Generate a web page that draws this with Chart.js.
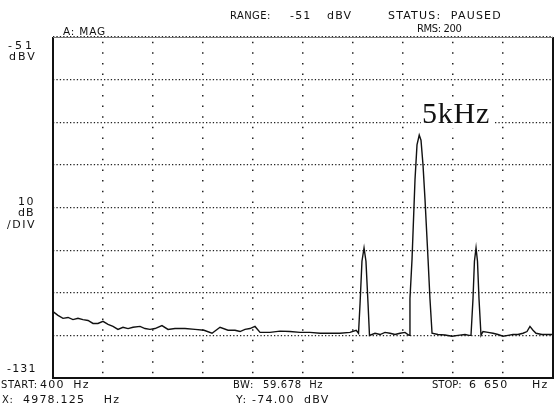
<html>
<head>
<script src="https://cdn.jsdelivr.net/npm/chart.js"></script>
<style>
body { margin: 0; background: #fff; }
#wrap { position: relative; width: 555px; height: 412px; overflow: hidden; }
.t { position: absolute; font-family: "DejaVu Sans", sans-serif; font-size: 11px; line-height: 10px; letter-spacing: 1.2px; white-space: pre; color: #111; }
.s { font-size: 10px; letter-spacing: 0.6px; }
#mark { position: absolute; left: 421px; top: 98px; font-family: "Liberation Serif", serif; font-size: 30px; line-height: 30px; letter-spacing: 0.8px; background: #fff; padding: 0 4px 0 1px; color: #111; }
</style>
</head>
<body>
<div id="wrap">
  <canvas id="chart" width="555" height="412"></canvas>

  <div class="t s" style="left:230px;top:11px;letter-spacing:0.4px">RANGE:</div>
  <div class="t" style="left:290px;top:11px;word-spacing:3px">-51  dBV</div>
  <div class="t" style="left:388px;top:11px">STATUS:  PAUSED</div>
  <div class="t s" style="left:417px;top:24px;letter-spacing:-0.4px">RMS: 200</div>
  <div class="t s" style="left:63px;top:26px;font-size:10.5px;letter-spacing:0.8px">A: MAG</div>

  <div class="t" style="left:8px;top:41px;letter-spacing:3px">-51</div>
  <div class="t" style="left:9px;top:52px;letter-spacing:2px">dBV</div>
  <div class="t" style="left:18px;top:197px;letter-spacing:1.5px">10</div>
  <div class="t" style="left:18px;top:208px;letter-spacing:1px">dB</div>
  <div class="t" style="left:7px;top:220px;letter-spacing:1.5px">/DIV</div>
  <div class="t" style="left:7px;top:364px">-131</div>

  <div class="t s" style="left:1px;top:380px">START:</div>
  <div class="t" style="left:40px;top:380px;word-spacing:4px">400 Hz</div>
  <div class="t s" style="left:233px;top:380px">BW:</div>
  <div class="t s" style="left:263px;top:380px">59.678  Hz</div>
  <div class="t s" style="left:432px;top:380px;letter-spacing:0">STOP:</div>
  <div class="t" style="left:469px;top:380px;word-spacing:2px">6 650</div>
  <div class="t" style="left:532px;top:380px">Hz</div>
  <div class="t s" style="left:2px;top:395px">X:</div>
  <div class="t" style="left:23px;top:395px;word-spacing:14px">4978.125 Hz</div>
  <div class="t" style="left:236px;top:395px">Y: -74.00  dBV</div>

  <div id="mark">5kHz</div>
</div>

<script>
// trace: frequency (Hz) / level (dBV)
const freqHz = [
  400, 462, 525, 588, 650, 712, 775, 838, 900, 962,
  1025, 1088, 1150, 1212, 1275, 1338, 1400, 1488, 1550, 1612,
  1675, 1762, 1838, 1925, 2050, 2175, 2288, 2388, 2488, 2588,
  2675, 2738, 2800, 2862, 2925, 2988, 3112, 3238, 3362, 3488,
  3612, 3738, 3862, 3988, 4112, 4190, 4219, 4238, 4262, 4288,
  4312, 4338, 4356, 4425, 4488, 4550, 4612, 4675, 4738, 4800,
  4850, 4862, 4888, 4925, 4950, 4978, 5000, 5025, 5050, 5088,
  5112, 5138, 5212, 5300, 5388, 5462, 5550, 5600, 5625, 5650,
  5668, 5688, 5706, 5725, 5750, 5775, 5838, 5900, 5962, 6025,
  6088, 6150, 6212, 6275, 6325, 6362, 6400, 6438, 6512, 6588,
  6650
];
const levelDbv = [
  -115.4, -116.3, -117.0, -116.8, -117.3, -117.0, -117.3, -117.5, -118.2, -118.2,
  -117.7, -118.4, -118.9, -119.6, -119.1, -119.4, -119.1, -118.9, -119.4, -119.6,
  -119.4, -118.7, -119.6, -119.4, -119.4, -119.6, -119.8, -120.5, -119.1, -119.8,
  -119.8, -120.1, -119.6, -119.4, -118.9, -120.3, -120.3, -120.0, -120.1, -120.3,
  -120.3, -120.5, -120.5, -120.5, -120.3, -119.8, -120.5, -113.6, -103.6, -100.5,
  -103.6, -113.6, -121.0, -120.5, -120.8, -120.3, -120.5, -120.8, -120.5, -120.3,
  -121.0, -112.4, -103.1, -84.5, -76.3, -74.0, -75.2, -81.0, -89.1, -103.1,
  -112.4, -120.5, -120.8, -120.9, -121.2, -121.0, -120.8, -121.0, -121.0, -112.4,
  -103.6, -100.5, -103.6, -112.4, -121.0, -120.1, -120.3, -120.5, -120.8, -121.2,
  -121.0, -120.8, -120.8, -120.5, -120.1, -118.9, -119.8, -120.5, -120.8, -120.8,
  -120.8
];

// graticule: 10 x 625 Hz, 8 x 10 dB
const xTicks = [400, 1025, 1650, 2275, 2900, 3525, 4150, 4775, 5400, 6025, 6650];
const yTicks = [-131, -121, -111, -101, -91, -81, -71, -61, -51];

const frame = {
  id: 'frame',
  afterDraw(chart) {
    const a = chart.chartArea, c = chart.ctx;
    c.save();
    c.strokeStyle = '#111';
    c.lineWidth = 2;
    c.beginPath();
    c.moveTo(a.left, a.top); c.lineTo(a.left, a.bottom);
    c.lineTo(a.right, a.bottom); c.lineTo(a.right, a.top);
    c.stroke();
    c.strokeStyle = '#777';
    c.lineWidth = 1;
    c.beginPath();
    c.moveTo(a.left, a.top + 0.5); c.lineTo(a.right, a.top + 0.5);
    c.stroke();
    c.restore();
  }
};

new Chart(document.getElementById('chart'), {
  type: 'line',
  data: {
    datasets: [{
      data: freqHz.map((f, i) => ({ x: f, y: levelDbv[i] })),
      borderColor: '#111',
      borderWidth: 1.4,
      pointRadius: 0,
      tension: 0,
      fill: false
    }]
  },
  options: {
    responsive: false,
    animation: false,
    layout: { padding: { left: 53, right: 2, top: 37, bottom: 34 } },
    plugins: { legend: { display: false }, tooltip: { enabled: false } },
    scales: {
      x: {
        type: 'linear', min: 400, max: 6650,
        afterBuildTicks: s => { s.ticks = xTicks.map(v => ({ value: v })); },
        ticks: { display: false },
        grid: { color: '#222', lineWidth: 1.5, drawTicks: false },
        border: { display: false, dash: [1.5, 9.15], dashOffset: 6 }
      },
      y: {
        type: 'linear', min: -131, max: -51,
        afterBuildTicks: s => { s.ticks = yTicks.map(v => ({ value: v })); },
        ticks: { display: false },
        grid: { color: '#222', lineWidth: 1.2, drawTicks: false },
        border: { display: false, dash: [1.3, 2.1] }
      }
    }
  },
  plugins: [frame]
});
</script>
</body>
</html>
